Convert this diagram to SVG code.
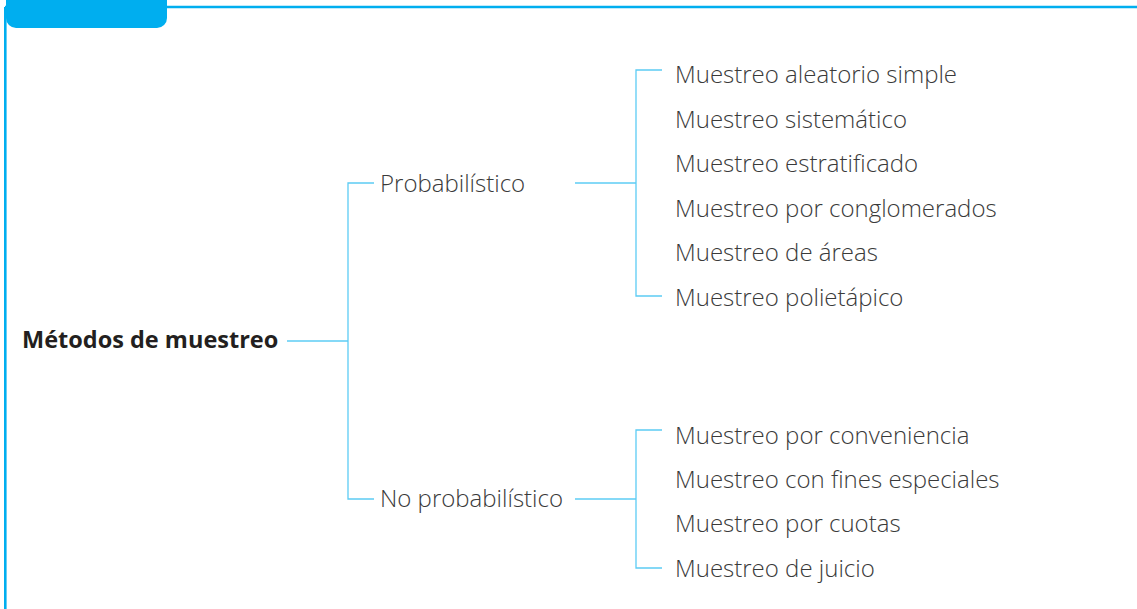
<svg xmlns="http://www.w3.org/2000/svg" width="1137" height="609" viewBox="0 0 1137 609">
<style>
.frame{stroke:#00AEEF;stroke-width:2.6;fill:none}
.conn line,.conn path{stroke:#5CCCF4;stroke-width:1.3;fill:none}
.t{font-family:"Open Sans","Liberation Sans",sans-serif;font-weight:300;font-size:24px;fill:#3a3a3a}
.title{font-family:"Open Sans","Liberation Sans",sans-serif;font-weight:700;font-size:23.5px;fill:#231f20}
</style>
<rect width="1137" height="609" fill="#fff"/>
<g id="frame">
<line class="frame" x1="5.3" y1="7" x2="5.3" y2="609"/>
<line class="frame" x1="5" y1="7" x2="1137" y2="7"/>
<path d="M6 0H167V18A10 10 0 0 1 157 28H16A10 10 0 0 1 6 18Z" fill="#00AEEF"/>
</g>
<g class="conn" id="connectors">
<line x1="287" y1="341" x2="348" y2="341"/>
<path d="M374 183H348V499H374"/>
<line x1="575" y1="183" x2="636" y2="183"/>
<path d="M662 70H636V296H662"/>
<line x1="575" y1="499" x2="636" y2="499"/>
<path d="M662 430H636V568H662"/>
</g>
<g id="root"><text class="title" x="22" y="348">Métodos de muestreo</text></g>
<g id="prob"><text class="t" x="380" y="192">Probabilístico</text></g>
<g id="noprob"><text class="t" x="380" y="507">No probabilístico</text></g>
<g id="prob-items">
<text class="t" x="675" y="83">Muestreo aleatorio simple</text>
<text class="t" x="675" y="128">Muestreo sistemático</text>
<text class="t" x="675" y="172">Muestreo estratificado</text>
<text class="t" x="675" y="217">Muestreo por conglomerados</text>
<text class="t" x="675" y="261">Muestreo de áreas</text>
<text class="t" x="675" y="306">Muestreo polietápico</text>
</g>
<g id="noprob-items">
<text class="t" x="675" y="444">Muestreo por conveniencia</text>
<text class="t" x="675" y="488">Muestreo con fines especiales</text>
<text class="t" x="675" y="532">Muestreo por cuotas</text>
<text class="t" x="675" y="577">Muestreo de juicio</text>
</g>
</svg>
